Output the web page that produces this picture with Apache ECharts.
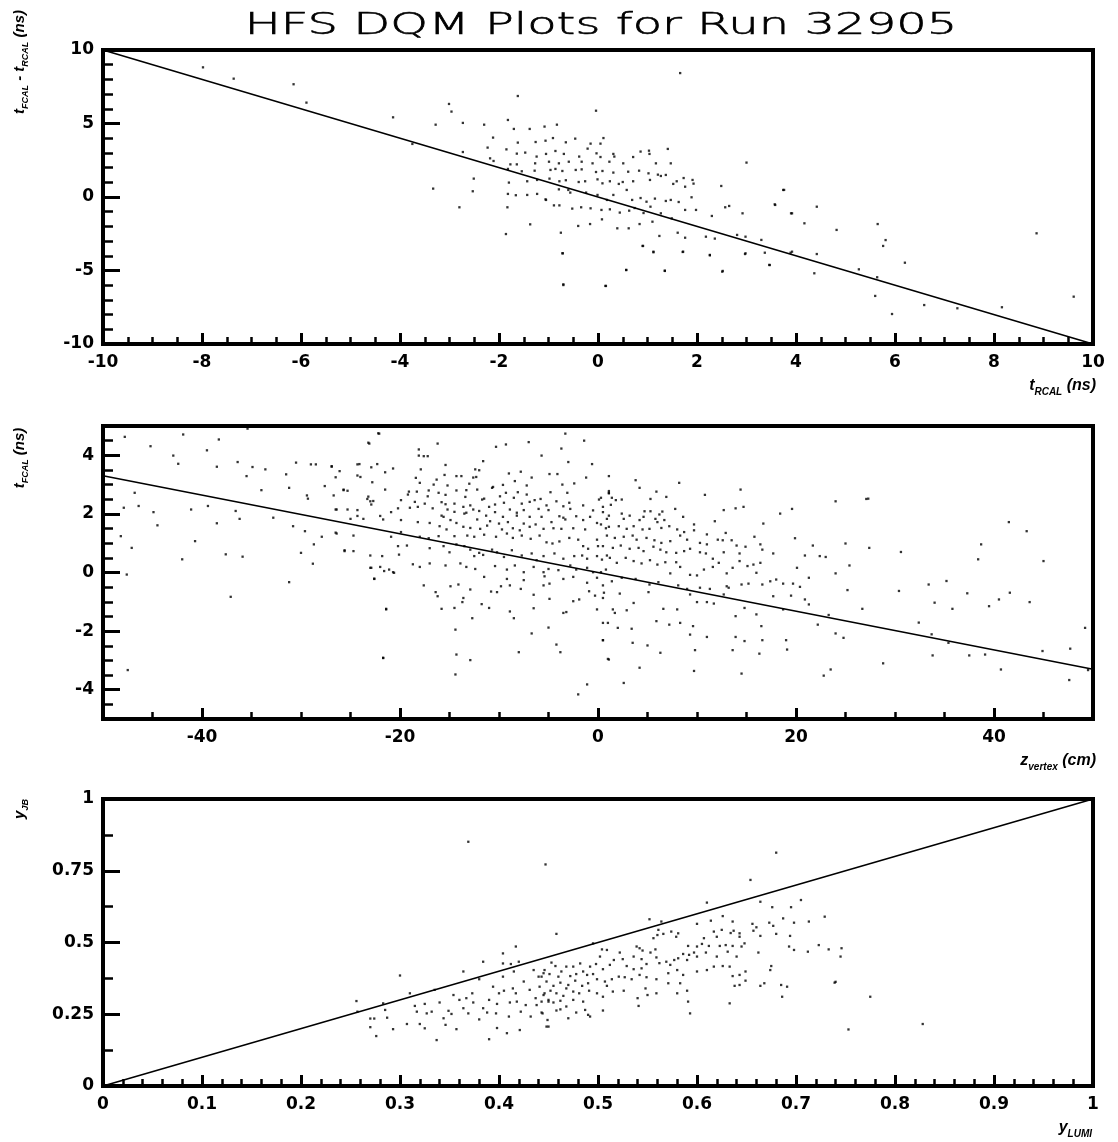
<!DOCTYPE html>
<html>
<head>
<meta charset="utf-8">
<script src="https://cdn.jsdelivr.net/npm/echarts@6/dist/echarts.min.js"></script>
<style>
html,body{margin:0;padding:0;background:#fff;}
#chart{width:1118px;height:1142px;}
</style>
</head>
<body>
<div id="chart"></div>
<script>
// ---------- Panel 1 : t_FCAL - t_RCAL vs t_RCAL ----------
const p1Points = [
[-3.01,6.33],[-2.96,5.81],[-0.04,5.87],[-3.28,4.92],[-2.73,5.04],[-2.30,4.92],[-1.82,5.24],[-1.70,4.63],[-1.38,4.63],[-1.08,4.79],
[-0.83,4.92],[-2.12,4.04],[-1.62,3.70],[-1.26,3.74],[-1.06,3.83],[-0.91,4.01],[-0.65,3.72],[-0.46,3.97],[-0.15,3.63],[0.11,4.01],
[0.05,3.63],[-2.23,3.36],[-1.85,3.24],[-1.47,3.02],[-1.64,2.95],[-1.24,2.75],[-1.05,2.93],[-0.86,3.13],[-0.69,2.93],[-0.38,2.75],
[-0.21,3.29],[-0.03,2.97],[0.05,2.72],[0.31,2.93],[0.33,2.75],[0.86,3.09],[1.03,3.15],[1.04,2.93],[1.41,3.27],[-2.73,3.06],
[-2.18,2.63],[-2.11,2.45],[-1.77,2.22],[-1.64,2.22],[-1.27,2.29],[-0.99,2.40],[-0.79,2.29],[-0.59,2.40],[-0.33,2.40],[-0.11,2.29],
[0.23,2.40],[0.51,2.29],[0.71,2.72],[1.17,2.29],[1.47,2.29],[3.00,2.34],[-1.82,1.91],[-1.54,1.75],[-1.28,1.79],[-0.96,1.84],
[-0.86,1.91],[-0.72,1.77],[-0.45,1.84],[-0.33,1.88],[-0.04,1.70],[0.09,1.77],[0.31,1.66],[0.61,1.72],[0.83,1.79],[1.02,1.61],
[1.21,1.52],[1.37,1.50],[1.73,1.29],[1.91,1.16],[-2.51,1.25],[-1.80,0.98],[-1.43,1.07],[-1.23,1.16],[-0.98,1.25],[-0.78,1.07],
[-0.65,1.14],[-0.39,1.02],[-0.26,1.07],[-0.01,1.20],[0.09,0.93],[0.24,1.07],[0.42,0.89],[0.50,1.02],[0.71,1.07],[1.05,1.16],
[1.27,1.43],[1.52,0.89],[1.59,1.07],[1.76,0.70],[1.93,0.91],[2.49,0.75],[3.74,0.48],[-3.33,0.57],[-2.53,0.39],[-1.82,0.21],
[-1.66,0.12],[-1.43,0.14],[-1.23,0.21],[-1.06,-0.16],[-0.79,0.52],[-0.60,0.48],[-0.56,0.30],[-0.24,0.30],[-0.01,0.14],[0.18,-0.20],
[0.31,0.14],[0.58,0.48],[0.69,-0.20],[0.86,-0.07],[0.98,-0.32],[1.15,-0.11],[1.37,-0.27],[1.47,-0.20],[1.63,-0.34],[1.89,-0.02],
[-2.80,-0.70],[-1.83,-0.70],[-1.05,-0.20],[-0.89,-0.57],[-0.78,-0.57],[-0.52,-0.79],[-0.34,-0.70],[-0.15,-0.77],[0.07,-0.88],[0.24,-0.84],
[0.44,-1.06],[0.63,-0.93],[0.74,-0.75],[0.92,-1.09],[1.06,-0.66],[1.27,-1.11],[1.49,-1.45],[1.76,-0.88],[1.98,-0.88],[2.30,-1.29],
[2.57,-0.70],[2.65,-0.61],[2.92,-1.11],[3.90,-1.11],[3.57,-0.50],[-1.86,-2.52],[-1.37,-1.86],[-0.75,-2.43],[-0.40,-1.97],[-0.16,-1.84],
[0.08,-1.52],[0.39,-2.13],[0.62,-2.13],[0.84,-1.84],[1.10,-1.68],[1.24,-2.65],[1.61,-2.43],[1.76,-2.77],[2.18,-2.70],[2.36,-2.83],
[2.81,-2.58],[2.98,-2.70],[3.30,-2.92],[0.90,-3.33],[1.12,-3.76],[1.71,-3.74],[2.26,-3.94],[2.97,-3.88],[3.37,-3.79],[3.89,-3.79],
[-0.72,-3.83],[0.57,-4.96],[1.35,-5.03],[2.51,-5.08],[3.46,-4.62],[-0.70,-5.99],[0.15,-6.05],
[-7.98,8.82],[-7.36,8.05],[-6.15,7.67],[-5.89,6.42],[-4.14,5.42],[-1.62,6.87],[-3.75,3.61],[1.66,8.43],
[4.42,-0.66],[4.17,-1.79],[4.82,-2.24],[5.65,-1.84],[5.81,-2.93],[5.76,-3.33],[6.20,-4.47],[5.27,-4.92],[5.64,-5.46],[5.60,-6.73],
[5.94,-7.96],[6.59,-7.35],[7.26,-7.57],[8.16,-7.50],[8.86,-2.47],[9.61,-6.78],[4.42,-3.88],[4.37,-5.19],[3.92,-3.72],[3.47,-4.63],
[2.98,-3.83],[2.52,-5.03],[2.26,-3.97],[1.72,-3.72],[1.12,-3.72],[0.91,-3.33],[0.57,-4.97],[0.16,-6.05],[1.35,-5.01],[-0.70,-5.94],
[-0.71,-3.83],[3.58,-0.54],[3.92,-1.11],[3.76,0.48]
];
const p1Line = [[-10,10],[10,-10]];
const p1XTicks = [-10,-8,-6,-4,-2,0,2,4,6,8,10];
const p1YTicks = [-10,-5,0,5,10];

// ---------- Panel 2 : t_FCAL vs z_vertex ----------
const p2Points = [
[-47.8,4.63],[-45.2,4.31],[-41.9,4.71],[-38.3,4.54],[-35.4,4.91],[-42.9,3.99],[-42.4,3.71],[-39.5,4.17],[-38.5,3.61],[-36.4,3.77],
[-35.5,3.29],[-34.9,3.60],[-33.6,3.52],[-30.5,3.75],[-29.0,3.69],[-31.5,3.35],[-34.0,2.81],[-31.2,2.89],[-29.4,2.63],[-28.5,3.69],
[-27.6,2.95],[-26.9,3.61],[-26.7,2.63],[-25.7,2.81],[-24.3,3.69],[-22.2,4.75],[-23.2,4.43],[-24.0,3.26],[-47.9,2.21],[-46.8,2.72],
[-46.4,2.27],[-44.9,2.06],[-44.5,1.61],[-41.1,2.15],[-39.4,2.27],[-38.5,1.68],[-36.6,2.10],[-36.2,1.83],[-32.8,1.87],[-30.8,1.58],
[-29.3,2.52],[-29.6,1.41],[-28.7,0.96],[-27.9,1.22],[-26.5,1.36],[-26.4,2.15],[-25.6,0.73],[-24.3,1.93],[-23.2,2.59],[-22.7,2.44],
[-22.0,1.93],[-48.2,1.24],[-47.1,0.84],[-40.7,1.07],[-37.6,0.62],[-35.9,0.54],[-30.0,0.67],[-28.8,0.30],[-24.7,0.73],[-22.9,0.16],
[-21.6,0.05],[-20.7,0.01],[-22.6,-0.21],[-42.0,0.45],[-47.6,-0.07],[-31.2,-0.33],[-37.1,-0.83],[-21.4,-1.24],[-21.7,-2.91],[-47.5,-3.33],
[-22.1,4.74],[-3.3,4.74],[-23.1,4.40],[-16.2,4.40],[-10.3,4.29],[-9.3,4.37],[-7.0,4.45],[-1.4,4.50],[-3.7,4.23],[-18.1,4.20],
[-18.1,3.99],[-17.6,3.97],[-17.2,3.97],[-5.7,3.99],[-11.6,3.80],[-3.0,3.77],[-26.9,3.63],[-24.1,3.70],[-22.3,3.70],[-22.9,3.59],
[-15.4,3.67],[-0.6,3.70],[-26.1,3.46],[-20.7,3.55],[-21.5,3.42],[-17.9,3.52],[-12.4,3.52],[-12.0,3.49],[-9.0,3.38],[-7.8,3.44],
[-4.9,3.36],[-4.1,3.36],[-26.5,3.25],[-24.3,3.31],[-18.4,3.23],[-15.5,3.33],[-14.3,3.29],[-13.8,3.29],[-12.6,3.24],[-12.3,3.26],
[-6.7,3.24],[-1.2,3.24],[-8.4,3.12],[-22.8,3.08],[-18.0,3.06],[-16.6,3.00],[-16.3,3.17],[-15.2,2.97],[-13.0,3.03],[-10.6,2.92],
[-9.6,2.99],[-7.2,2.97],[-3.6,3.00],[-2.4,3.04],[-25.7,2.83],[-25.3,2.79],[-21.5,2.83],[-19.1,2.76],[-18.3,2.76],[-17.1,2.80],
[-16.1,2.72],[-14.3,2.80],[-13.3,2.81],[-12.2,2.83],[-10.7,2.89],[-9.3,2.72],[-8.1,2.74],[-7.2,2.66],[-4.8,2.74],[-3.1,2.72],
[-19.2,2.66],[-17.2,2.60],[-15.4,2.65],[-13.4,2.58],[-11.7,2.49],[-11.5,2.52],[-9.9,2.60],[-8.5,2.55],[-6.4,2.47],[-5.8,2.51],
[-4.2,2.43],[-2.9,2.38],[0.1,2.49],[1.1,2.72],[-23.3,2.51],[-23.0,2.43],[-19.9,2.47],[-18.5,2.41],[-17.5,2.35],[-15.8,2.40],
[-15.4,2.33],[-14.5,2.35],[-13.6,2.24],[-12.9,2.29],[-10.4,2.32],[-9.5,2.38],[-7.7,2.35],[-6.9,2.41],[-5.2,2.29],[-3.5,2.26],
[-1.5,2.29],[-22.9,2.32],[-20.2,2.19],[-19.0,2.21],[-18.2,2.24],[-16.7,2.19],[-15.2,2.15],[-14.5,2.07],[-12.6,2.15],[-12.0,2.10],
[-11.0,2.24],[-8.9,2.15],[-8.2,2.04],[-7.5,2.13],[-6.0,2.17],[-5.0,2.13],[-2.8,2.17],[-0.5,2.12],[0.5,2.24],[-26.5,2.15],
[-25.3,2.15],[-24.3,2.13],[-20.9,2.06],[-15.8,1.94],[-15.6,1.90],[-13.5,2.01],[-13.3,2.04],[-11.3,1.94],[-10.4,2.06],[-9.6,1.90],
[-8.2,1.94],[-6.9,1.90],[-5.7,1.90],[-3.9,1.92],[-3.5,1.87],[-2.2,1.92],[-0.8,1.90],[1.1,1.94],[-25.0,1.83],[-23.7,1.83],
[-21.7,1.81],[-19.9,1.79],[-18.2,1.72],[-17.0,1.69],[-14.9,1.79],[-14.3,1.69],[-12.2,1.81],[-10.9,1.75],[-10.0,1.67],[-9.1,1.72],
[-7.5,1.67],[-6.3,1.64],[-4.7,1.72],[-3.3,1.81],[-1.5,1.79],[-0.1,1.69],[-16.0,1.58],[-15.3,1.47],[-13.6,1.56],[-12.9,1.52],
[-11.9,1.49],[-11.2,1.60],[-9.7,1.47],[-8.6,1.51],[-7.9,1.44],[-6.9,1.56],[-5.5,1.49],[-4.5,1.51],[-3.7,1.49],[-2.5,1.51],
[-1.3,1.47],[0.8,1.51],[-26.4,1.33],[-24.7,1.26],[-20.9,1.22],[-19.9,1.38],[-18.0,1.22],[-17.1,1.17],[-16.1,1.24],[-14.5,1.24],
[-13.2,1.26],[-12.5,1.22],[-11.5,1.29],[-10.3,1.22],[-9.2,1.33],[-8.6,1.18],[-7.7,1.26],[-6.8,1.15],[-5.9,1.26],[-5.2,1.03],
[-4.6,0.99],[-3.9,1.06],[-2.9,1.18],[-2.0,1.12],[-1.5,0.90],[-1.0,0.81],[-0.1,1.12],[0.0,0.90],[-25.6,0.76],[-23.0,0.58],
[-21.8,0.56],[-20.2,0.90],[-20.1,0.61],[-19.3,0.92],[-18.7,0.28],[-17.0,0.83],[-15.6,0.90],[-15.0,0.69],[-14.3,0.96],[-13.5,0.90],
[-12.9,0.78],[-12.5,0.56],[-12.0,0.67],[-11.6,0.60],[-10.7,0.78],[-10.2,0.69],[-9.5,0.53],[-8.7,0.76],[-7.7,0.58],[-6.7,0.65],
[-6.2,0.42],[-5.5,0.56],[-4.4,0.65],[-3.5,0.47],[-2.4,0.56],[-1.6,0.58],[-1.1,0.47],[-0.1,0.56],[0.9,0.58],[-23.0,0.16],
[-22.0,0.19],[-21.1,0.10],[-20.6,-0.01],[-22.6,-0.22],[-18.0,0.19],[-17.0,0.31],[-15.4,0.24],[-13.9,0.31],[-13.3,0.19],[-12.4,0.12],
[-11.5,-0.15],[-10.4,0.22],[-9.2,0.10],[-8.4,0.24],[-7.5,0.01],[-6.5,0.19],[-5.5,0.01],[-5.0,0.12],[-4.0,0.08],[-2.8,0.24],
[-2.2,0.10],[-1.1,0.16],[-0.5,0.01],[0.8,0.10],[-9.2,-0.22],[-7.5,-0.26],[-5.4,-0.13],[-4.9,-0.38],[-3.5,-0.22],[-2.5,-0.15],
[-1.1,-0.35],[-0.1,-0.18],[0.5,-0.44],[-17.6,-0.44],[-16.4,-0.67],[-16.2,-0.81],[-14.9,-0.47],[-14.1,-0.41],[-13.6,-0.87],[-13.7,-1.01],
[-12.9,-0.58],[-11.75,-1.08],[-10.8,-0.65],[-10.2,-0.67],[-9.8,-0.47],[-8.9,-0.44],[-7.8,-0.56],[-6.5,-0.76],[-5.5,-0.44],[-4.9,-0.90],
[-3.5,-1.38],[-3.2,-1.35],[-2.5,-0.98],[-1.9,-0.92],[-0.9,-0.64],[-0.3,-0.79],[-0.1,-1.26],[0.5,-0.87],[-15.8,-1.24],[-14.5,-1.21],
[-11.0,-1.21],[-8.9,-1.33],[-8.5,-1.56],[-6.5,-1.22],[-21.4,-1.26],[-12.7,-1.56],[-5.0,-1.88],[-6.7,-2.08],[-14.4,-1.95],[0.5,-2.31],
[-4.2,-2.46],[-3.8,-2.72],[-8.0,-2.72],[-14.3,-2.80],[-12.9,-2.99],[-21.7,-2.92],[1.1,-2.97],[-14.4,-3.48],[-1.1,-3.82],[-2.0,-4.16],
[1.0,-1.72],
[1.1,3.29],[3.8,3.15],[8.2,3.06],[4.2,2.89],[5.9,2.76],[10.8,2.65],[14.4,2.83],[1.1,2.78],[1.1,2.70],[0.3,2.55],
[1.4,2.55],[1.8,2.47],[2.4,2.49],[5.3,2.51],[6.9,2.58],[24.0,2.43],[27.1,2.51],[1.3,2.31],[7.8,2.17],[12.7,2.13],
[13.9,2.19],[14.7,2.24],[19.6,2.17],[18.4,2.01],[0.5,2.06],[2.4,2.01],[3.2,1.94],[4.7,2.09],[5.3,2.09],[6.2,1.98],
[6.5,2.08],[8.6,1.90],[9.7,1.64],[11.8,1.75],[16.7,1.67],[0.9,1.83],[2.6,1.83],[4.2,1.79],[4.6,1.90],[5.8,1.83],
[6.0,1.72],[6.7,1.79],[0.3,1.64],[1.1,1.56],[2.1,1.58],[2.9,1.49],[3.6,1.58],[4.5,1.47],[5.2,1.49],[6.4,1.52],
[7.2,1.58],[8.0,1.47],[8.7,1.38],[9.7,1.44],[11.0,1.30],[12.9,1.35],[15.8,1.22],[19.9,1.17],[0.9,1.26],[1.7,1.18],
[2.6,1.22],[3.5,1.26],[3.9,1.12],[4.9,1.18],[5.7,1.10],[6.4,1.01],[7.3,1.07],[8.3,1.26],[9.0,1.12],[10.3,1.01],
[11.0,0.96],[12.1,1.12],[12.6,1.10],[13.5,1.10],[14.0,0.92],[14.9,0.88],[16.4,0.96],[21.7,0.92],[25.0,0.99],[27.4,0.84],
[0.5,0.90],[1.5,0.84],[2.3,0.92],[3.2,0.81],[4.1,0.84],[4.6,0.73],[5.6,0.88],[6.3,0.78],[6.9,0.69],[7.9,0.67],
[8.7,0.73],[9.3,0.81],[10.3,0.69],[10.9,0.65],[11.6,0.47],[12.7,0.69],[14.3,0.65],[16.6,0.78],[17.7,0.65],[20.9,0.58],
[22.4,0.56],[23.0,0.53],[0.4,0.44],[1.2,0.50],[1.9,0.33],[2.8,0.50],[3.6,0.39],[4.4,0.31],[5.25,0.42],[6.0,0.27],
[6.8,0.35],[7.3,-0.03],[7.9,0.35],[8.3,0.19],[9.3,-0.08],[10.0,-0.10],[10.7,0.10],[11.6,0.19],[12.2,0.33],[13.0,-0.03],
[13.6,0.16],[14.3,0.39],[15.1,0.22],[15.7,0.27],[16.0,-0.01],[16.4,0.33],[20.1,0.16],[21.3,-0.18],[25.4,0.24],[24.0,-0.03],
[0.3,0.01],[1.4,-0.30],[2.4,-0.18],[3.8,-0.22],[5.2,-0.41],[6.1,-0.33],[8.1,-0.44],[9.0,-0.56],[10.3,-0.52],[11.3,-0.56],
[13.0,-0.47],[13.2,-0.52],[14.5,-0.41],[15.2,-0.38],[16.6,-0.41],[17.4,-0.30],[18.0,-0.24],[18.7,-0.38],[19.7,-0.38],[20.4,-0.49],
[25.2,-0.60],[0.6,-0.69],[2.2,-0.72],[3.6,-1.04],[5.1,-0.67],[6.6,-1.24],[8.0,-1.26],[9.3,-0.75],[10.0,-1.01],[11.0,-1.01],
[11.7,-1.06],[12.7,-0.75],[13.9,-1.49],[14.8,-1.21],[16.0,-1.43],[16.5,-1.83],[17.7,-0.81],[18.7,-1.26],[19.5,-0.79],[20.9,-0.92],
[21.3,-1.09],[22.2,-1.78],[23.3,-1.45],[24.0,-2.08],[24.8,-2.23],[26.7,-1.24],[1.5,-1.26],[1.7,-1.38],[2.9,-1.29],[0.5,-1.72],
[2.0,-1.89],[3.4,-1.92],[5.9,-1.66],[7.2,-1.78],[8.3,-1.72],[9.3,-2.12],[9.6,-1.83],[11.0,-2.20],[13.9,-2.20],[14.8,-2.34],
[16.6,-2.31],[19.0,-2.31],[0.5,-2.31],[3.5,-2.40],[5.0,-2.49],[6.3,-2.74],[9.8,-2.65],[13.6,-2.65],[16.3,-2.77],[19.1,-2.63],
[1.0,-2.95],[4.2,-3.25],[9.7,-3.36],[14.5,-3.45],[22.8,-3.52],[23.5,-3.31],[2.6,-3.77],
[27.3,2.52],[41.5,1.72],[43.3,1.41],[38.7,0.96],[30.6,0.70],[38.4,0.45],[45.0,0.39],[35.2,-0.29],[30.4,-0.63],[33.4,-0.41],
[37.3,-0.71],[40.5,-0.92],[41.6,-0.69],[43.6,-1.01],[39.5,-1.15],[35.8,-1.24],[34.0,-1.03],[32.4,-1.71],[33.7,-2.11],[49.2,-1.89],
[39.1,-2.80],[37.5,-2.83],[33.8,-2.83],[35.4,-2.40],[44.9,-2.68],[47.7,-2.60],[40.7,-3.31],[28.8,-3.10],[47.6,-3.67],[49.5,-3.33]
];
const p2Line = [[-50,3.3],[50,-3.3]];
const p2XTicks = [-40,-20,0,20,40];
const p2YTicks = [-4,-2,0,2,4];

// ---------- Panel 3 : y_JB vs y_LUMI ----------
const p3Points = [
[0.369,0.851],[0.447,0.772],[0.417,0.486],[0.256,0.296],[0.257,0.259],[0.283,0.288],[0.300,0.385],[0.270,0.235],[0.274,0.235],[0.276,0.174],
[0.270,0.205],[0.285,0.265],[0.287,0.238],[0.293,0.198],[0.307,0.216],[0.310,0.323],[0.315,0.279],[0.317,0.259],[0.325,0.286],[0.327,0.253],
[0.320,0.216],[0.325,0.201],[0.332,0.259],[0.337,0.160],[0.335,0.335],[0.340,0.291],[0.344,0.236],[0.346,0.213],[0.349,0.262],[0.352,0.251],
[0.354,0.317],[0.357,0.198],[0.360,0.300],[0.364,0.399],[0.364,0.271],[0.367,0.306],[0.369,0.253],[0.373,0.323],[0.374,0.291],[0.380,0.372],
[0.380,0.232],[0.384,0.433],[0.384,0.271],[0.388,0.256],[0.390,0.300],[0.390,0.163],[0.394,0.346],[0.397,0.253],[0.398,0.202],[0.398,0.286],
[0.400,0.323],[0.404,0.462],[0.404,0.427],[0.404,0.381],[0.405,0.332],[0.408,0.184],[0.410,0.242],[0.411,0.291],[0.412,0.425],[0.414,0.340],
[0.415,0.399],[0.417,0.323],[0.418,0.294],[0.420,0.433],[0.421,0.195],[0.422,0.259],[0.425,0.364],[0.427,0.282],[0.431,0.335],[0.432,0.242],
[0.435,0.404],[0.437,0.306],[0.438,0.282],[0.440,0.381],[0.441,0.346],[0.443,0.256],[0.445,0.393],[0.446,0.323],[0.448,0.207],[0.450,0.294],
[0.680,0.813],[0.654,0.718],[0.610,0.639],[0.458,0.530],[0.552,0.581],[0.564,0.573],[0.705,0.648],[0.664,0.642],[0.695,0.623],[0.676,0.623],
[0.729,0.590],[0.713,0.573],[0.687,0.584],[0.673,0.569],[0.698,0.569],[0.656,0.565],[0.636,0.573],[0.626,0.592],[0.600,0.565],[0.614,0.576],
[0.660,0.553],[0.677,0.558],[0.680,0.530],[0.694,0.523],[0.664,0.523],[0.657,0.541],[0.643,0.532],[0.637,0.541],[0.634,0.533],[0.625,0.544],
[0.617,0.538],[0.620,0.520],[0.607,0.515],[0.605,0.495],[0.600,0.486],[0.591,0.488],[0.581,0.532],[0.579,0.520],[0.574,0.538],[0.561,0.544],
[0.566,0.530],[0.560,0.526],[0.556,0.515],[0.643,0.520],[0.648,0.497],[0.645,0.486],[0.629,0.491],[0.636,0.488],[0.623,0.488],[0.631,0.468],
[0.640,0.451],[0.612,0.488],[0.609,0.465],[0.620,0.451],[0.626,0.418],[0.617,0.416],[0.633,0.416],[0.636,0.383],[0.643,0.387],[0.649,0.367],
[0.600,0.451],[0.597,0.465],[0.592,0.457],[0.590,0.439],[0.586,0.460],[0.581,0.445],[0.577,0.439],[0.573,0.422],[0.569,0.433],[0.562,0.428],
[0.559,0.448],[0.558,0.476],[0.553,0.465],[0.545,0.472],[0.542,0.480],[0.539,0.486],[0.536,0.451],[0.544,0.442],[0.549,0.425],[0.544,0.410],
[0.536,0.407],[0.529,0.418],[0.525,0.442],[0.522,0.465],[0.516,0.439],[0.512,0.422],[0.505,0.407],[0.509,0.474],[0.504,0.476],[0.495,0.497],
[0.502,0.451],[0.498,0.425],[0.492,0.416],[0.495,0.390],[0.489,0.387],[0.485,0.399],[0.482,0.427],[0.475,0.416],[0.478,0.390],[0.472,0.383],
[0.468,0.416],[0.463,0.399],[0.460,0.381],[0.457,0.418],[0.453,0.430],[0.451,0.390],[0.446,0.404],[0.443,0.381],[0.448,0.364],[0.455,0.349],
[0.462,0.360],[0.470,0.352],[0.477,0.367],[0.484,0.349],[0.490,0.358],[0.499,0.372],[0.507,0.364],[0.514,0.372],[0.521,0.381],[0.527,0.379],
[0.534,0.372],[0.542,0.387],[0.549,0.379],[0.559,0.372],[0.571,0.393],[0.580,0.404],[0.586,0.387],[0.600,0.399],[0.610,0.404],[0.583,0.358],
[0.590,0.332],[0.591,0.294],[0.593,0.253],[0.550,0.317],[0.548,0.340],[0.540,0.306],[0.541,0.279],[0.526,0.332],[0.515,0.329],[0.509,0.349],
[0.499,0.323],[0.491,0.332],[0.485,0.294],[0.481,0.323],[0.475,0.329],[0.468,0.340],[0.465,0.314],[0.458,0.323],[0.452,0.332],[0.445,0.317],
[0.443,0.294],[0.450,0.300],[0.455,0.291],[0.462,0.297],[0.462,0.267],[0.458,0.263],[0.468,0.277],[0.478,0.256],[0.487,0.265],[0.490,0.248],
[0.492,0.242],[0.505,0.263],[0.470,0.236],[0.449,0.230],[0.450,0.207],[0.444,0.253],[0.475,0.300],[0.505,0.311],[0.559,0.323],[0.571,0.358],
[0.580,0.323],[0.633,0.288],[0.638,0.349],[0.649,0.399],[0.668,0.358],[0.674,0.404],[0.675,0.418],[0.664,0.349],[0.685,0.352],[0.691,0.346],
[0.686,0.311],[0.693,0.486],[0.698,0.474],[0.712,0.468],[0.733,0.476],[0.739,0.360],[0.662,0.465],[0.643,0.352],
[0.753,0.197],[0.828,0.216],[0.775,0.311],[0.740,0.363],[0.746,0.480],[0.745,0.451],[0.723,0.491]
];
const p3Line = [[0,0],[1,1]];
const p3XTicks = [0,0.1,0.2,0.3,0.4,0.5,0.6,0.7,0.8,0.9,1];
const p3YTicks = [0,0.25,0.5,0.75,1];

// ---------- styling helpers ----------
const LABEL_FONT = {fontFamily:'DejaVu Sans', fontWeight:'bold', fontSize:17, color:'#000'};
const grids = [
  {left:103, right:25, top:50, height:294},
  {left:103, right:25, top:426, height:293},
  {left:103, right:25, top:799, height:287}
].map(g => Object.assign({show:true, borderColor:'#000', borderWidth:4, backgroundColor:'transparent'}, g));

const NO_LINE = {show:false, onZero:false};
function xAx(gi, min, max, opt) {
  return Object.assign({
    type:'value', gridIndex:gi, min:min, max:max, position:'bottom',
    axisLine:NO_LINE, splitLine:{show:false},
    axisTick:{show:true, inside:true, length:11, lineStyle:{color:'#000', width:3}},
    axisLabel:Object.assign({show:true, margin:10}, LABEL_FONT)
  }, opt);
}
function yAx(gi, min, max, opt) {
  return Object.assign({
    type:'value', gridIndex:gi, min:min, max:max, position:'left',
    axisLine:NO_LINE, splitLine:{show:false},
    axisTick:{show:true, inside:true, length:17, lineStyle:{color:'#000', width:3}},
    axisLabel:Object.assign({show:true, margin:9}, LABEL_FONT)
  }, opt);
}
const minorX = n => ({show:true, splitNumber:n, length:7, lineStyle:{color:'#000', width:2.5}});
const minorY = n => ({show:true, splitNumber:n, length:10, lineStyle:{color:'#000', width:2.5}});

const xAxes = [
  xAx(0, p1XTicks[0], p1XTicks[p1XTicks.length-1], {interval:2, minorTick:minorX(4)}),
  xAx(1, -50, 50, {interval:5, axisLabel:{show:false},
      axisTick:{show:true, inside:true, length:7, lineStyle:{color:'#000', width:2.5}}}),
  xAx(1, -50, 50, {
      axisTick:{show:true, inside:true, length:11, customValues:p2XTicks, lineStyle:{color:'#000', width:3}},
      axisLabel:Object.assign({show:true, margin:10, customValues:p2XTicks}, LABEL_FONT)}),
  xAx(2, p3XTicks[0], p3XTicks[p3XTicks.length-1], {interval:0.1, minorTick:minorX(5)})
];
const yAxes = [
  yAx(0, p1YTicks[0], p1YTicks[p1YTicks.length-1], {interval:5, minorTick:minorY(5)}),
  yAx(1, -5, 5, {interval:0.5, axisLabel:{show:false},
      axisTick:{show:true, inside:true, length:10, lineStyle:{color:'#000', width:2.5}}}),
  yAx(1, -5, 5, {
      axisTick:{show:true, inside:true, length:17, customValues:p2YTicks, lineStyle:{color:'#000', width:3}},
      axisLabel:Object.assign({show:true, margin:9, customValues:p2YTicks}, LABEL_FONT)}),
  yAx(2, p3YTicks[0], p3YTicks[p3YTicks.length-1], {interval:0.25, minorTick:minorY(2)})
];

function scatter(xi, yi, data) {
  return {type:'scatter', xAxisIndex:xi, yAxisIndex:yi, data:data, symbol:'rect', symbolSize:2.3,
          itemStyle:{color:'#000'}, silent:true, z:3};
}
function fitLine(xi, yi, data) {
  return {type:'line', xAxisIndex:xi, yAxisIndex:yi, data:data, showSymbol:false, symbol:'none',
          lineStyle:{color:'#000', width:1.6}, silent:true, z:4};
}

const TF = 'Liberation Sans';
const rich = {
  m:{fontFamily:TF, fontWeight:'bold', fontStyle:'italic', fontSize:16, color:'#000', lineHeight:22, verticalAlign:'middle'},
  s:{fontFamily:TF, fontWeight:'bold', fontStyle:'italic', fontSize:10, color:'#000', lineHeight:12, verticalAlign:'bottom'}
};
const richY = {
  m:{fontFamily:TF, fontWeight:'bold', fontStyle:'italic', fontSize:15, color:'#000', lineHeight:20, verticalAlign:'middle'},
  s:{fontFamily:TF, fontWeight:'bold', fontStyle:'italic', fontSize:9, color:'#000', lineHeight:11, verticalAlign:'bottom'}
};

const option = {
  animation:false,
  backgroundColor:'#fff',
  grid:grids,
  xAxis:xAxes,
  yAxis:yAxes,
  series:[
    scatter(0,0,p1Points), fitLine(0,0,p1Line),
    scatter(2,2,p2Points), fitLine(2,2,p2Line),
    scatter(3,3,p3Points), fitLine(3,3,p3Line)
  ],
  graphic:[
    {type:'text', x:601, y:26, scaleX:1.55, scaleY:1,
     style:{text:'HFS DQM Plots for Run 32905', fontFamily:'DejaVu Sans', fontWeight:200, fontSize:31,
            fill:'#000', align:'center', verticalAlign:'middle', stroke:'#000', lineWidth:0.6}},
    {type:'text', x:1096, y:386, style:{text:'{m|t}{s|RCAL}{m| (ns)}', rich:rich, align:'right', verticalAlign:'middle'}},
    {type:'text', x:1096, y:761, style:{text:'{m|z}{s|vertex}{m| (cm)}', rich:rich, align:'right', verticalAlign:'middle'}},
    {type:'text', x:1092, y:1128, style:{text:'{m|y}{s|LUMI}', rich:rich, align:'right', verticalAlign:'middle'}},
    {type:'text', x:20, y:62, rotation:Math.PI/2,
     style:{text:'{m|t}{s|FCAL}{m| - t}{s|RCAL}{m| (ns)}', rich:richY, align:'center', verticalAlign:'middle'}},
    {type:'text', x:20, y:458, rotation:Math.PI/2,
     style:{text:'{m|t}{s|FCAL}{m| (ns)}', rich:richY, align:'center', verticalAlign:'middle'}},
    {type:'text', x:20, y:809, rotation:Math.PI/2,
     style:{text:'{m|y}{s|JB}', rich:richY, align:'center', verticalAlign:'middle'}}
  ]
};

const chart = echarts.init(document.getElementById('chart'), null, {renderer:'canvas'});
chart.setOption(option);
</script>
</body>
</html>
